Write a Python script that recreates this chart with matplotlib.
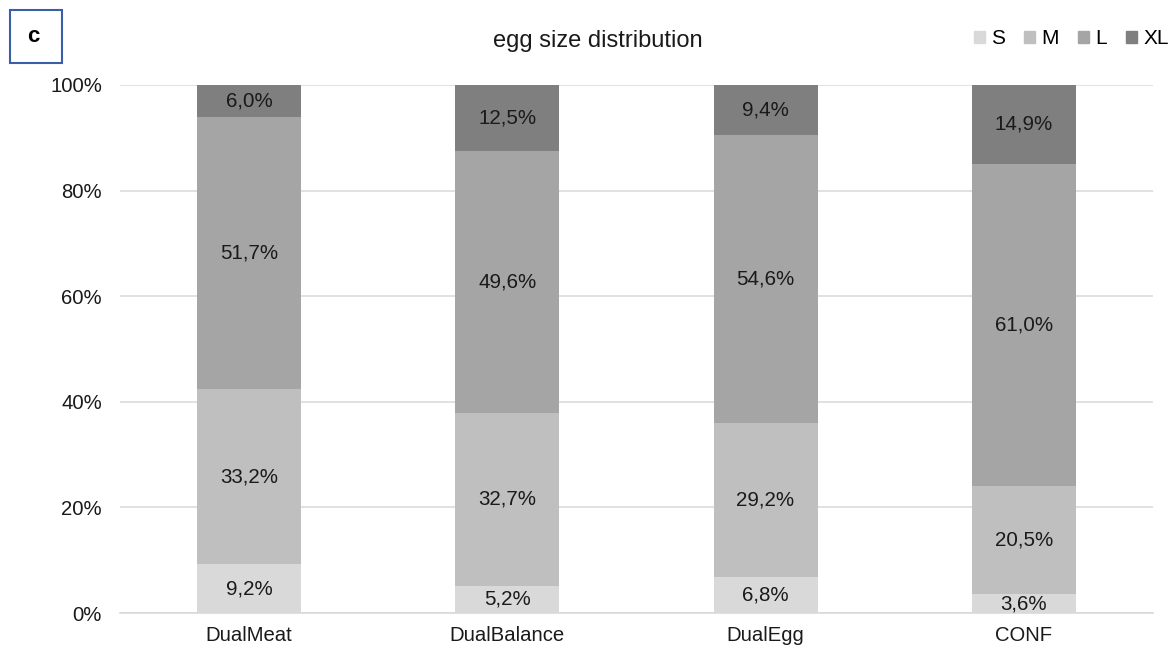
import matplotlib.pyplot as plt
import matplotlib.patches as mpatches
import numpy as np

# egg size shares per line (percent)
lines = ['DualMeat', 'DualBalance', 'DualEgg', 'CONF']
sizes = ['S', 'M', 'L', 'XL']
share_S = [9.2, 5.2, 6.8, 3.6]
share_M = [33.2, 32.7, 29.2, 20.5]
share_L = [51.7, 49.6, 54.6, 61.0]
share_XL = [6.0, 12.5, 9.4, 14.9]
colors = ['#d9d9d9', '#bfbfbf', '#a5a5a5', '#7f7f7f']

plt.rcParams['font.family'] = ['Liberation Sans', 'DejaVu Sans']

shares = np.array([share_S, share_M, share_L, share_XL])
# 100% stacked: normalise each column
norm = shares / shares.sum(axis=0) * 100

fig = plt.figure(figsize=(11.71, 6.48), dpi=100)
ax = fig.add_axes([0.1025, 0.054, 0.882, 0.815])

x = np.arange(len(lines))
bottom = np.zeros(len(lines))
for i, size in enumerate(sizes):
    ax.bar(x, norm[i], bottom=bottom, width=0.403, color=colors[i],
           label=size, zorder=2)
    for xi, b, h, v in zip(x, bottom, norm[i], shares[i]):
        ax.text(xi, b + h / 2, f'{v:.1f}%'.replace('.', ','),
                ha='center', va='center', fontsize=14.8, color='#1a1a1a', zorder=3)
    bottom += norm[i]

ax.set_xlim(-0.5, 3.5)
ax.set_ylim(0, 100)
ax.set_yticks(np.arange(0, 101, 20))
ax.set_yticklabels([f'{t}%' for t in range(0, 101, 20)])
ax.set_xticks(x)
ax.set_xticklabels(lines)
ax.tick_params(axis='both', length=0, labelsize=14.6, colors='#1a1a1a')
ax.tick_params(axis='y', pad=13)
ax.tick_params(axis='x', pad=9)
ax.grid(axis='y', color='#dcdcdc', linewidth=1.2, zorder=0)
for s in ['top', 'right', 'left']:
    ax.spines[s].set_visible(False)
ax.spines['bottom'].set_color('#d9d9d9')
ax.spines['bottom'].set_linewidth(1.2)

fig.text(598 / 1171, 1 - 41 / 648, 'egg size distribution', ha='center', va='center',
         fontsize=17, color='#1a1a1a')

handles = [mpatches.Patch(color=c) for c in colors]
fig.legend(handles, sizes, loc='center right', bbox_to_anchor=(1.0145, 0.94),
           ncol=4, frameon=False, fontsize=15, handlelength=0.55,
           handleheight=0.55, handletextpad=0.3, columnspacing=0.9)

# panel letter box
fig.patches.append(mpatches.Rectangle((10 / 1171, 1 - 63 / 648), 52 / 1171, 53 / 648,
                                      transform=fig.transFigure, fill=False,
                                      edgecolor='#3a5fa8', linewidth=1.5))
fig.text(33 / 1171, 1 - 36 / 648, 'c', ha='center', va='center',
         fontsize=16, fontweight='bold')

fig.savefig('out.png', dpi=100)
